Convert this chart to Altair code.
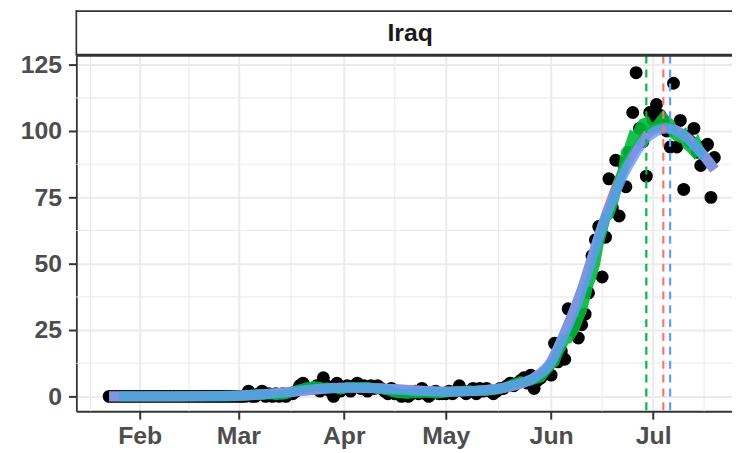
import altair as alt
import pandas as pd

# ---------------- data ----------------
country = "Iraq"
first_day = "2020-01-23"

deaths_jan = [0, 0, 0, 0, 0, 0, 0, 0, 0]
deaths_feb = [0, 0, 0, 0, 0, 0, 0, 0, 0, 0, 0, 0, 0, 0, 0, 0, 0, 0, 0, 0,
              0, 0, 0, 0, 0, 0, 0, 0, 0]
deaths_mar = [0, 0, 0, 2, 0, 0, 1, 2, 0, 1, 0, 1, 0, 1, 0, 1, 1, 2, 4, 5,
              3, 3, 3, 4, 2, 7, 4, 2, 0, 5, 2]
deaths_apr = [3, 4, 2, 4, 5, 3, 4, 2, 4, 3, 4, 3, 2, 1, 3, 1, 2, 0, 1, 0,
              1, 2, 1, 3, 1, 0, 1, 2, 1, 1]
deaths_may = [1, 2, 1, 2, 4, 2, 1, 2, 3, 1, 3, 2, 3, 2, 1, 2, 3, 3, 4, 5,
              4, 5, 6, 7, 5, 8, 3, 6, 7, 9, 9]
deaths_jun = [8, 20, 13, 17, 14, 33, 25, 28, 22, 27, 31, 39, 53, 59, 64, 45,
              60, 82, 71, 89, 68, 88, 79, 92, 107, 122, 101, 96, 83, 107]
deaths_jul = [104, 110, 106, 104, 100, 94, 118, 94, 104, 78, 98, 96, 101, 92,
              87, 94, 95, 75, 90]

# fitted curves read at sample dates (blue on top, red almost hidden below)
curve_dates = ["2020-01-23", "2020-02-10", "2020-02-25", "2020-03-05", "2020-03-15",
               "2020-03-25", "2020-04-03", "2020-04-12", "2020-04-21", "2020-05-01",
               "2020-05-10", "2020-05-17", "2020-05-22", "2020-05-27", "2020-06-01",
               "2020-06-04", "2020-06-07", "2020-06-10", "2020-06-13", "2020-06-16",
               "2020-06-19", "2020-06-22", "2020-06-25", "2020-06-28", "2020-07-02",
               "2020-07-05", "2020-07-08", "2020-07-11", "2020-07-14", "2020-07-17",
               "2020-07-19"]
blue_vals = [0, 0, 0.1, 0.5, 1.5, 2.8, 3.3, 3.0, 2.3, 1.8, 2.1, 3.0, 4.5, 7, 13,
             21, 30, 40, 52, 64, 74, 83, 90, 96, 100, 101, 100, 97.5, 93.5, 89, 85.5]
red_vals = [0, 0, 0.1, 0.5, 1.5, 2.8, 3.3, 3.0, 2.3, 1.8, 2.1, 3.0, 4.5, 7, 13,
            21, 30, 40, 52, 64, 75, 84.5, 91.5, 97, 101, 101.5, 100, 97.5, 93.5, 89, 85.5]

# peak dates marked by dashed lines
peak_dates = ["2020-06-29", "2020-07-04", "2020-07-06"]
peak_colors = ["#00BA38", "#F8766D", "#619CFF"]

# axis breaks
month_breaks = [(2, 1), (3, 1), (4, 1), (5, 1), (6, 1), (7, 1)]
minor_x = ["2020-01-17T12:00:00Z", "2020-02-15T12:00:00Z", "2020-03-16T12:00:00Z",
           "2020-04-16T00:00:00Z", "2020-05-16T12:00:00Z", "2020-06-16T00:00:00Z",
           "2020-07-16T00:00:00Z"]
y_breaks = [0, 25, 50, 75, 100, 125]
minor_y = [12.5, 37.5, 62.5, 87.5, 112.5]

# ---------------- tables ----------------
values = deaths_jan + deaths_feb + deaths_mar + deaths_apr + deaths_may + deaths_jun + deaths_jul
dates = pd.date_range(first_day, periods=len(values), freq="D").strftime("%Y-%m-%d")
pts = pd.DataFrame({"date": dates, "deaths": values})
blue_df = pd.DataFrame({"date": curve_dates, "v": blue_vals})
red_df = pd.DataFrame({"date": curve_dates, "v": red_vals})
peaks_df = pd.DataFrame({"date": peak_dates, "col": peak_colors})
minor_x_df = pd.DataFrame({"date": minor_x})
minor_y_df = pd.DataFrame({"v": minor_y})
strip_df = pd.DataFrame({"label": [country]})

W, H = 662, 359
FONT = "Liberation Sans"

xscale = alt.Scale(type="utc", nice=False,
                   domain=[alt.DateTime(year=2020, month=1, date=13, hours=8, minutes=24, utc=True),
                           alt.DateTime(year=2020, month=7, date=24, hours=4, minutes=48, utc=True)])
yscale = alt.Scale(domain=[-5.6, 128.4], nice=False, zero=False)

xaxis = alt.Axis(values=[alt.DateTime(year=2020, month=m, date=d, utc=True) for m, d in month_breaks],
                 labelExpr="utcFormat(datum.value, '%b')", title=None)
yaxis = alt.Axis(values=y_breaks, title=None)

X = lambda f="date": alt.X(f"{f}:T", scale=xscale, axis=xaxis)
Y = lambda f: alt.Y(f"{f}:Q", scale=yscale, axis=yaxis)

minor_v = alt.Chart(minor_x_df).mark_rule(color="#EBEBEB", strokeWidth=1.1).encode(x=X())
minor_h = alt.Chart(minor_y_df).mark_rule(color="#EBEBEB", strokeWidth=1.1).encode(y=Y("v"))

points = alt.Chart(pts).mark_circle(color="black", size=170, opacity=1).encode(
    x=X(), y=Y("deaths"))

red_line = alt.Chart(red_df).mark_line(color="#F8766D", strokeWidth=10, strokeCap="butt",
                                        interpolate="monotone").encode(x=X(), y=Y("v"))

green_line = alt.Chart(pts).transform_window(
    rm="mean(deaths)", n="count()", frame=[-3, 3], sort=[alt.SortField("date")]
).transform_filter("datum.n == 7").mark_line(
    color="#00BA38", strokeWidth=10, strokeCap="butt", opacity=0.9
).encode(x=X(), y=Y("rm"))

blue_line = alt.Chart(blue_df).mark_line(color="#619CFF", strokeWidth=10.5, strokeCap="butt",
                                          opacity=0.8, interpolate="monotone").encode(
    x=X(), y=Y("v"))

peaks = alt.Chart(peaks_df).mark_rule(strokeWidth=2.2, strokeDash=[8, 6]).encode(
    x=X(), color=alt.Color("col:N", scale=None))

strip_text = alt.Chart(strip_df).mark_text(
    font=FONT, fontSize=25, fontWeight="bold", color="#1A1A1A", baseline="middle", align="center"
).encode(text="label:N", x=alt.value(337), y=alt.value(-23))

strip_top = alt.Chart(strip_df).mark_rule(color="#333333", strokeWidth=2).encode(
    x=alt.value(0), x2=alt.value(W), y=alt.value(-45))
strip_left = alt.Chart(strip_df).mark_rule(color="#333333", strokeWidth=1.7).encode(
    x=alt.value(0), y=alt.value(-46), y2=alt.value(0))
strip_bottom = alt.Chart(strip_df).mark_rule(color="#333333", strokeWidth=3).encode(
    x=alt.value(0), x2=alt.value(W), y=alt.value(-0.5))

chart = alt.layer(
    minor_v, minor_h, points, red_line, green_line, blue_line, peaks,
    strip_text, strip_top, strip_left, strip_bottom
).properties(
    width=W, height=H,
    autosize=alt.AutoSizeParams(type="none"),
    padding={"left": 69, "top": 46, "right": 0, "bottom": 40},
    background="white",
).configure_view(stroke=None).configure_axis(
    grid=True, gridColor="#EBEBEB", gridWidth=2,
    domainColor="#333333", domainWidth=1.8,
    tickColor="#333333", tickWidth=2, tickSize=8,
    labelFont=FONT, labelFontSize=25, labelFontWeight="bold", labelColor="#4D4D4D",
).configure_axisY(labelPadding=7).configure_axisX(labelPadding=5)

chart.save("out.html", embed_options={"renderer": "svg", "actions": False})
